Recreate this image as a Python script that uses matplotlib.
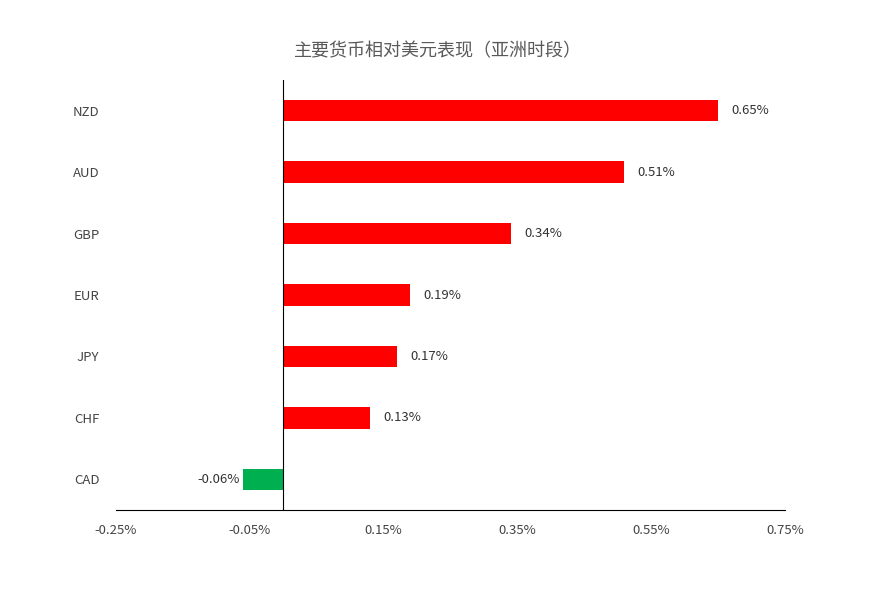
import matplotlib
matplotlib.use('Agg')
import matplotlib.pyplot as plt

plt.rcParams['font.family'] = ['Noto Sans CJK SC', 'DejaVu Sans']

currencies = ['CAD', 'CHF', 'JPY', 'EUR', 'GBP', 'AUD', 'NZD']
changes = [-0.06, 0.13, 0.17, 0.19, 0.34, 0.51, 0.65]
xticks = [-0.25, -0.05, 0.15, 0.35, 0.55, 0.75]

fig = plt.figure(figsize=(8.76, 5.99), dpi=100)
ax = fig.add_axes([0.1324, 0.1486, 0.7637, 0.7178])

colors = ['#00B050' if v < 0 else '#FF0000' for v in changes]
ax.barh(range(len(currencies)), changes, height=0.35, color=colors)

for i, v in enumerate(changes):
    if v < 0:
        ax.text(v - 0.005, i, f'{v:.2f}%', va='center', ha='right', fontsize=9.5, color='#333333')
    else:
        ax.text(v + 0.02, i, f'{v:.2f}%', va='center', ha='left', fontsize=9.5, color='#333333')

ax.set_xlim(-0.25, 0.75)
ax.set_ylim(-0.5, 6.5)
ax.set_xticks(xticks)
ax.set_xticklabels([f'{t:.2f}%' for t in xticks], fontsize=9.5, color='#444444')
ax.set_yticks(range(len(currencies)))
ax.set_yticklabels(currencies, fontsize=9.5, color='#444444')
ax.tick_params(length=0, pad=12)
ax.tick_params(axis='x', pad=10)

for s in ['top', 'right', 'left']:
    ax.spines[s].set_visible(False)
ax.spines['bottom'].set_color('#000000')
ax.spines['bottom'].set_linewidth(0.8)
ax.axvline(0, color='#000000', linewidth=0.8)

fig.text(0.5, 0.915, '主要货币相对美元表现（亚洲时段）', ha='center', va='center',
         fontsize=13, color='#595959')

fig.savefig('out.png', dpi=100)
